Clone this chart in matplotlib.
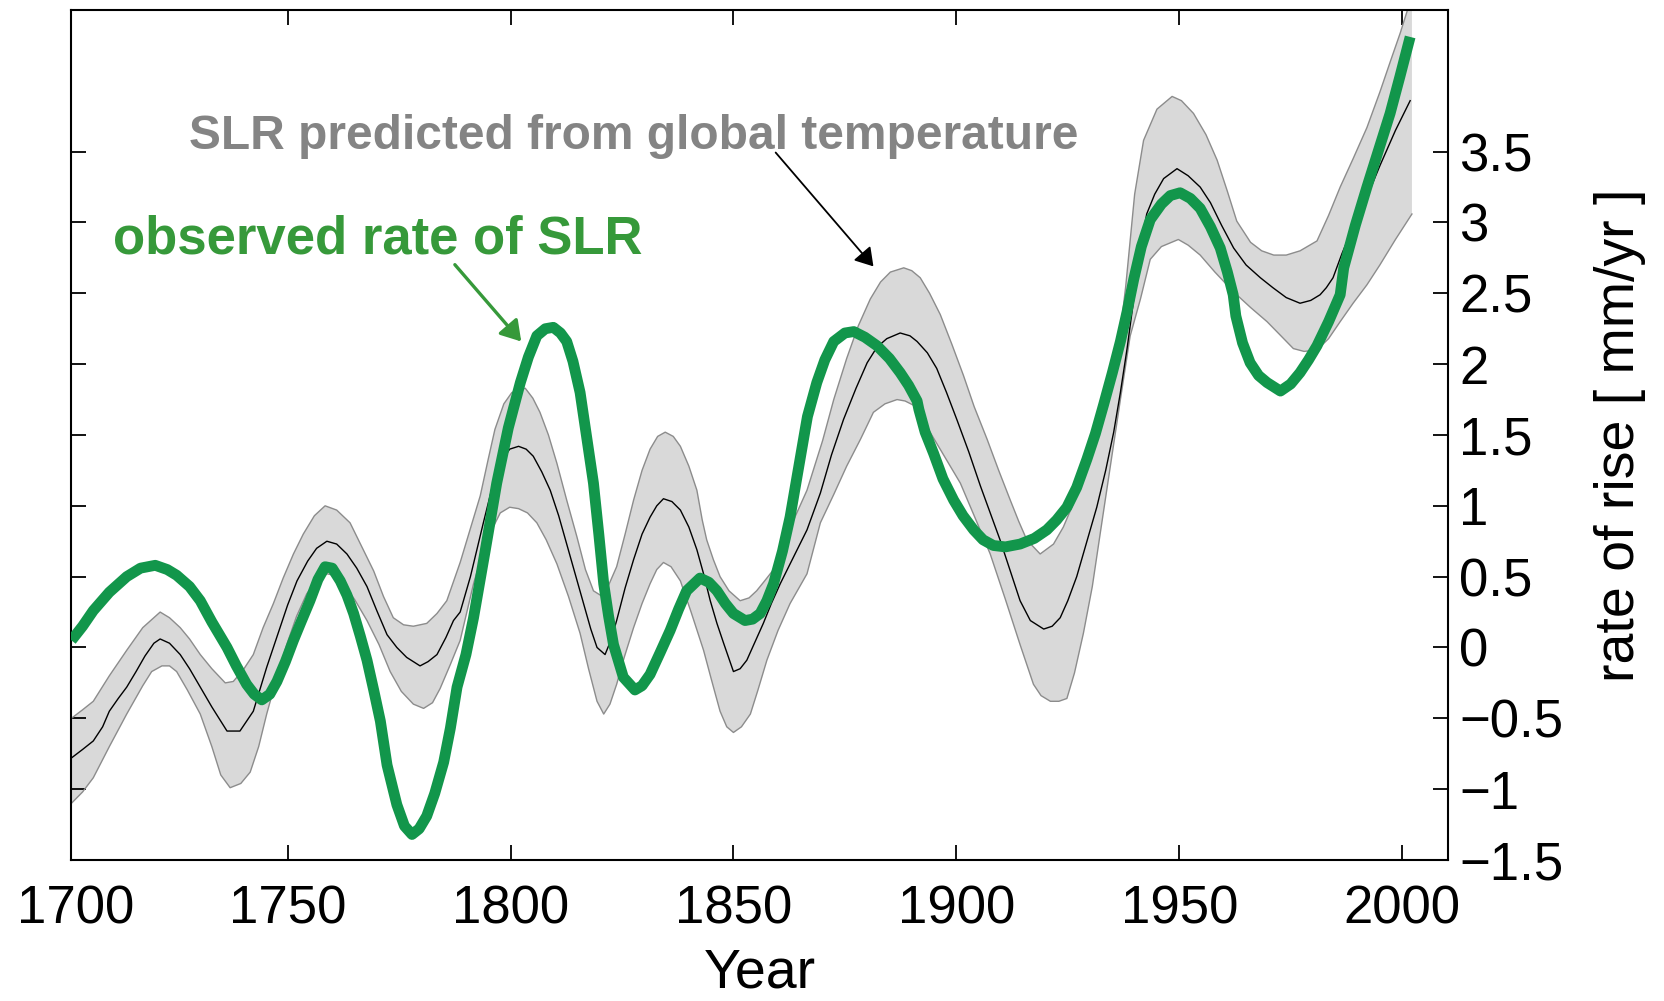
import matplotlib
matplotlib.use("Agg")
import matplotlib.pyplot as plt
import numpy as np

plt.rcParams["font.family"] = ["Liberation Sans", "DejaVu Sans"]

# observed rate of sea-level rise (mm/yr)
obs_year = [
    1701.5, 1704, 1706.4, 1710, 1713.9, 1717, 1720.3, 1723, 1725.1, 1728,
    1730.4, 1733, 1736.4, 1738.5, 1740.8, 1742.5, 1744.2, 1746, 1747.6, 1749.5,
    1751.3, 1753, 1755.0, 1756.8, 1758.4, 1760, 1761.8, 1763.3, 1764.8, 1766.3,
    1767.8, 1769.3, 1770.8, 1772.3, 1774.5, 1776.2, 1777.9, 1779.5, 1781.2, 1783,
    1785.0, 1786.5, 1788.0, 1790, 1791.7, 1794.3, 1796.9, 1799.5, 1802.2, 1804,
    1805.9, 1807.8, 1809.6, 1811.2, 1812.6, 1814, 1815.6, 1817, 1818.6, 1819.8,
    1820.9, 1822, 1823.1, 1825.3, 1827.9, 1829.5, 1831.3, 1833.5, 1835.8, 1837.7,
    1839.5, 1842.5, 1844.5, 1846.3, 1848.2, 1850, 1852.6, 1854.3, 1856, 1857.5,
    1859, 1861, 1862.7, 1864.5, 1866.1, 1866.6, 1868.7, 1870.5, 1872.5, 1875,
    1877, 1879.5, 1882.2, 1885, 1887.4, 1889.3, 1891.2, 1891.6, 1893, 1894.9,
    1897, 1899.4, 1901.5, 1903.9, 1906, 1908.3, 1911, 1914.3, 1917.5, 1920.3,
    1922.5, 1924.8, 1927, 1929.3, 1931.2, 1933.0, 1935, 1936.8, 1938.3, 1939.8,
    1941.5, 1943.5, 1946, 1948, 1950.2, 1952.5, 1954.7, 1957, 1959.2, 1960.8,
    1962.1, 1962.7, 1964.2, 1965.9, 1967.8, 1969.7, 1972.7, 1975, 1977.1, 1979,
    1980.9, 1983.5, 1986.1, 1986.9, 1989.5, 1992.1, 1994.7, 1997.3, 1999.5, 2001.8,
]
obs_rate = [
    0.05, 0.15, 0.26, 0.39, 0.50, 0.56, 0.58, 0.55, 0.51, 0.43,
    0.33, 0.18, 0.0, -0.13, -0.26, -0.33, -0.37, -0.33, -0.24, -0.10,
    0.05, 0.18, 0.33, 0.48, 0.57, 0.56, 0.47, 0.37, 0.24, 0.08,
    -0.09, -0.30, -0.52, -0.83, -1.11, -1.26, -1.32, -1.28, -1.19, -1.03,
    -0.81, -0.57, -0.28, -0.05, 0.21, 0.68, 1.16, 1.55, 1.87, 2.05,
    2.20, 2.25, 2.26, 2.22, 2.16, 2.02, 1.80, 1.50, 1.16, 0.80,
    0.45, 0.22, 0.02, -0.21, -0.30, -0.27, -0.19, -0.04, 0.12, 0.27,
    0.40, 0.49, 0.46, 0.40, 0.31, 0.24, 0.19, 0.20, 0.24, 0.33,
    0.45, 0.68, 0.92, 1.25, 1.54, 1.63, 1.87, 2.03, 2.16, 2.22,
    2.23, 2.19, 2.13, 2.04, 1.94, 1.85, 1.74, 1.68, 1.52, 1.37,
    1.19, 1.04, 0.93, 0.83, 0.76, 0.72, 0.71, 0.73, 0.77, 0.83,
    0.90, 0.99, 1.13, 1.33, 1.51, 1.71, 1.94, 2.16, 2.37, 2.60,
    2.83, 3.02, 3.13, 3.19, 3.21, 3.17, 3.10, 2.97, 2.82, 2.65,
    2.49, 2.34, 2.15, 2.01, 1.92, 1.87, 1.81, 1.86, 1.94, 2.03,
    2.13, 2.30, 2.49, 2.68, 2.98, 3.25, 3.51, 3.77, 4.03, 4.31,
]

# rate predicted from global temperature (central estimate)
pred_year = [
    1701.5, 1704, 1706.4, 1708.5, 1710, 1712, 1713.9, 1716, 1718, 1720,
    1721.4, 1723.5, 1725.9, 1728, 1730.4, 1733, 1736.4, 1739.3, 1742.3, 1745.3,
    1748.3, 1750, 1752.1, 1754.5, 1756.5, 1758.8, 1761, 1763.3, 1765.5, 1767.8,
    1770, 1772.3, 1774.5, 1776.7, 1779.7, 1781.5, 1783.5, 1785.5, 1787.2, 1788.7,
    1791, 1793.9, 1795.8, 1797.7, 1799.8, 1801.8, 1803.5, 1805.1, 1807, 1808.9,
    1810.8, 1812.6, 1814.5, 1816.4, 1818, 1819.4, 1821.2, 1822.5, 1823.8, 1825.7,
    1827.6, 1829.5, 1831.3, 1832.8, 1834.3, 1836.2, 1838.1, 1840, 1841.8, 1843.3,
    1844.8, 1846.3, 1847.8, 1850, 1851.5, 1853, 1855, 1856.7, 1858.5, 1860.5,
    1863.5, 1866.5, 1869.5, 1872, 1874.7, 1877.5, 1880, 1882.2, 1884.4, 1887.4,
    1889.6, 1891.2, 1893.5, 1895.6, 1897.8, 1900.1, 1902.8, 1905.4, 1907.6, 1909.8,
    1912, 1914.3, 1916.6, 1919.6, 1921.5, 1923.3, 1925, 1927.0, 1929.3, 1931.5,
    1933.5, 1935.3, 1936.8, 1938.3, 1939.8, 1941.2, 1942.7, 1944.5, 1946.5, 1949.5,
    1952, 1954.7, 1957, 1959.5, 1962.2, 1965, 1968.2, 1971, 1974, 1977.1,
    1979.5, 1981.6, 1983, 1984.5, 1986.5, 1989, 1992.1, 1995, 1998.5, 2001.8,
]
pred_rate = [
    -0.78, -0.72, -0.66, -0.56, -0.45, -0.36, -0.28, -0.17, -0.06, 0.03,
    0.06, 0.03, -0.05, -0.15, -0.28, -0.42, -0.59, -0.59, -0.45, -0.14,
    0.14, 0.30, 0.47, 0.61, 0.70, 0.75, 0.73, 0.66, 0.56, 0.43,
    0.26, 0.09, 0.0, -0.07, -0.13, -0.10, -0.05, 0.07, 0.19, 0.25,
    0.50, 0.88, 1.12, 1.30, 1.40, 1.42, 1.40, 1.35, 1.24, 1.11,
    0.93, 0.73, 0.52, 0.31, 0.13, 0.0, -0.05, 0.05, 0.19, 0.42,
    0.62, 0.80, 0.92, 1.0, 1.05, 1.03, 0.97, 0.85, 0.69, 0.52,
    0.33, 0.17, 0.03, -0.17, -0.15, -0.09, 0.05, 0.17, 0.31, 0.45,
    0.64, 0.83, 1.09, 1.36, 1.61, 1.83, 2.01, 2.12, 2.18, 2.22,
    2.20, 2.16, 2.08, 1.97, 1.80, 1.61, 1.38, 1.14, 0.95, 0.76,
    0.55, 0.33, 0.19, 0.13, 0.15, 0.21, 0.33, 0.50, 0.75, 0.99,
    1.25, 1.52, 1.80, 2.11, 2.46, 2.80, 3.06, 3.20, 3.31, 3.38,
    3.33, 3.25, 3.14, 2.98, 2.82, 2.70, 2.61, 2.54, 2.47, 2.43,
    2.45, 2.49, 2.54, 2.61, 2.78, 2.97, 3.18, 3.40, 3.65, 3.86,
]

# upper edge of the uncertainty band
upper_year = [
    1701.5, 1704, 1706.4, 1710, 1713.9, 1717.5, 1721.4, 1723.5, 1725.9, 1728,
    1730.4, 1733, 1736, 1737.8, 1740, 1742.3, 1744.5, 1746.8, 1749, 1751.3,
    1753.5, 1756, 1758.4, 1761, 1764, 1766.5, 1769.3, 1771.5, 1773.7, 1776,
    1778.2, 1781.2, 1783.5, 1785.7, 1788.7, 1791, 1793.2, 1795, 1796.5, 1798.5,
    1800.3, 1803.3, 1805, 1806.6, 1808.5, 1810.4, 1812.6, 1814.9, 1816.8, 1818.6,
    1820.1, 1822, 1823.8, 1825.7, 1827.6, 1829.5, 1831.3, 1833, 1834.7, 1836.5,
    1838.1, 1840, 1841.8, 1843, 1844, 1845.5, 1847, 1849, 1851.5, 1853.5,
    1855.2, 1857, 1859, 1862.5, 1866.5, 1870, 1872.5, 1875.4, 1878, 1880.7,
    1883, 1885.2, 1888.2, 1890, 1891.9, 1894, 1896.4, 1899, 1901.6, 1904,
    1906.9, 1909.5, 1912.1, 1914, 1915.8, 1918.8, 1921.8, 1924, 1926.3, 1929,
    1931.5, 1934, 1936.8, 1938, 1940, 1942, 1945, 1948.4, 1950.5, 1953.2,
    1956, 1958.5, 1960.8, 1962.9, 1966, 1968.5, 1971.2, 1974, 1977.1, 1980.9,
    1983.5, 1986.1, 1989, 1992.1, 1995, 1997.5, 1999.6, 2002.2,
]
upper_rate = [
    -0.50, -0.44, -0.38, -0.20, -0.02, 0.14, 0.25, 0.21, 0.14, 0.06,
    -0.05, -0.15, -0.25, -0.24, -0.16, -0.05, 0.14, 0.31, 0.49, 0.66,
    0.80, 0.93, 1.0, 0.97, 0.88, 0.72, 0.54, 0.36, 0.21, 0.16,
    0.15, 0.17, 0.24, 0.33, 0.60, 0.84, 1.07, 1.33, 1.54, 1.72,
    1.80, 1.83, 1.76, 1.66, 1.50, 1.30, 1.04, 0.78, 0.55, 0.40,
    0.37, 0.44, 0.57, 0.80, 1.04, 1.25, 1.40, 1.49, 1.52, 1.49,
    1.42, 1.28, 1.11, 0.90, 0.76, 0.62, 0.50, 0.40, 0.33, 0.35,
    0.40, 0.47, 0.55, 0.83, 1.11, 1.46, 1.75, 2.04, 2.27, 2.46,
    2.58, 2.65, 2.68, 2.66, 2.61, 2.50, 2.35, 2.14, 1.92, 1.70,
    1.47, 1.25, 1.04, 0.89, 0.76, 0.66, 0.73, 0.85, 1.02, 1.28,
    1.56, 1.88, 2.23, 2.55, 3.20, 3.58, 3.80, 3.89, 3.86, 3.77,
    3.62, 3.44, 3.22, 3.01, 2.86, 2.80, 2.77, 2.77, 2.80, 2.87,
    3.05, 3.25, 3.45, 3.67, 3.92, 4.15, 4.34, 4.60,
]

# lower edge of the uncertainty band
lower_year = [
    1701.5, 1704, 1706.4, 1710, 1713.9, 1717.5, 1719.5, 1721.8, 1723.5, 1725.1,
    1727.5, 1730.4, 1733, 1735, 1737.1, 1739.5, 1741.6, 1743.5, 1745.3, 1747.5,
    1749.8, 1752, 1754.3, 1756.5, 1758.8, 1760.5, 1762.5, 1765, 1767.8, 1770.5,
    1773, 1775.5, 1778.2, 1780.5, 1782.5, 1784.2, 1786.5, 1788.7, 1791.7, 1794.5,
    1797.7, 1799.8, 1801.8, 1803.8, 1805.9, 1808, 1810.4, 1813, 1815.6, 1817.5,
    1819.4, 1820.9, 1822.3, 1823.8, 1825.5, 1827.6, 1829.5, 1831.3, 1832.8, 1834.3,
    1836, 1838.1, 1840.5, 1843.3, 1845, 1847, 1848.5, 1850, 1851.8, 1853.8,
    1855.5, 1857.5, 1860, 1862.7, 1866.5, 1869.5, 1872.5, 1875.4, 1878.5, 1881.4,
    1884, 1886.7, 1888.5, 1890.4, 1892.5, 1894.1, 1897.5, 1900.9, 1904, 1907.6,
    1911, 1914.3, 1917.3, 1919, 1921.1, 1923, 1924.8, 1926.5, 1928.5, 1930.5,
    1932.3, 1934.5, 1936.8, 1939, 1941.3, 1943.5, 1946, 1949.8, 1952, 1954.7,
    1958, 1962.2, 1966, 1969.7, 1972.5, 1975.6, 1978, 1980.9, 1983.5, 1986.1,
    1989, 1992.1, 1995, 1998.5, 2002.2,
]
lower_rate = [
    -1.10, -1.02, -0.92, -0.70, -0.47, -0.27, -0.17, -0.13, -0.13, -0.17,
    -0.30, -0.47, -0.70, -0.90, -0.99, -0.96, -0.88, -0.70, -0.47, -0.22,
    0.02, 0.22, 0.38, 0.47, 0.52, 0.51, 0.45, 0.34, 0.19, 0.02,
    -0.17, -0.31, -0.40, -0.43, -0.39, -0.29, -0.12, 0.05, 0.45, 0.75,
    0.95, 0.99, 0.98, 0.95, 0.88, 0.76, 0.59, 0.36, 0.10, -0.15,
    -0.38, -0.47, -0.40, -0.26, -0.07, 0.14, 0.31, 0.45, 0.55, 0.60,
    0.57, 0.47, 0.25, -0.02, -0.22, -0.45, -0.56, -0.60, -0.56, -0.47,
    -0.30, -0.09, 0.12, 0.31, 0.52, 0.88, 1.08, 1.28, 1.47, 1.66,
    1.72, 1.75, 1.74, 1.71, 1.62, 1.52, 1.34, 1.16, 0.93, 0.66,
    0.34, 0.02, -0.26, -0.34, -0.38, -0.38, -0.36, -0.18, 0.10, 0.43,
    0.81, 1.27, 1.75, 2.20, 2.46, 2.74, 2.83, 2.88, 2.84, 2.77,
    2.65, 2.51, 2.40, 2.30, 2.21, 2.11, 2.09, 2.10, 2.18, 2.30,
    2.43, 2.56, 2.70, 2.88, 3.06,
]

x_ticks = [1750, 1800, 1850, 1900, 1950, 2000]
y_ticks = [-1.5, -1, -0.5, 0, 0.5, 1, 1.5, 2, 2.5, 3, 3.5]
y_tick_labels = ["\u22121.5", "\u22121", "\u22120.5", "0", "0.5", "1",
                 "1.5", "2", "2.5", "3", "3.5"]

GREEN_LINE = "#12964b"
GREEN_TEXT = "#36993a"
GREY_TEXT = "#848484"
TICK_FONT = 38
X_PAD = 18

fig = plt.figure(figsize=(16.65, 10.01), dpi=100)
ax = fig.add_axes([0.0429, 0.1409, 0.8268, 0.8491])

# uncertainty band of the temperature-based prediction
band_x = np.concatenate([upper_year, lower_year[::-1]])
band_y = np.concatenate([upper_rate, lower_rate[::-1]])
ax.fill(band_x, band_y, color="#d9d9d9", lw=0, zorder=1)
ax.plot(upper_year, upper_rate, color="#8c8c8c", lw=1.0, zorder=2)
ax.plot(lower_year, lower_rate, color="#8c8c8c", lw=1.0, zorder=2)
ax.plot(pred_year, pred_rate, color="black", lw=1.0, zorder=3)

ax.plot(obs_year, obs_rate, color=GREEN_LINE, lw=7.8,
        solid_capstyle="butt", solid_joinstyle="round", zorder=4)

ax.set_xlim(1701.5, 2010.3)
ax.set_ylim(-1.5, 4.5)
ax.set_xticks(x_ticks)
ax.set_yticks(y_ticks)
ax.set_yticklabels(y_tick_labels)

ax.tick_params(axis="both", direction="in", length=11, width=1.3,
               labelsize=TICK_FONT, top=True, right=True,
               labelleft=False, labelright=True)
ax.tick_params(axis="x", pad=X_PAD)
ax.tick_params(axis="y", pad=8)
for spine in ax.spines.values():
    spine.set_linewidth(1.5)

# 1700 sits just left of the plotted range, so it is placed by hand
ax.annotate("1700", xy=(0, 0), xycoords="axes fraction",
            xytext=(3, -X_PAD), textcoords="offset points",
            ha="center", va="top", fontsize=TICK_FONT)

ax.set_xlabel("Year", fontsize=40, labelpad=9)
ax.yaxis.set_label_position("right")
ax.set_ylabel("rate of rise [ mm/yr ]", fontsize=40, rotation=90, labelpad=22)

ax.annotate("SLR predicted from global temperature",
            xy=(1881.4, 2.69), xytext=(1727.8, 3.52),
            fontsize=34.5, fontweight="bold", color=GREY_TEXT,
            ha="left", va="baseline",
            arrowprops=dict(arrowstyle="-|>,head_length=0.4,head_width=0.25",
                            color="black", lw=1.3, mutation_scale=27,
                            shrinkA=0, shrinkB=0,
                            patchA=None, relpos=(0.66, 0.14)))
ax.annotate("observed rate of SLR",
            xy=(1802.4, 2.16), xytext=(1710.9, 2.78),
            fontsize=38, fontweight="bold", color=GREEN_TEXT,
            ha="left", va="baseline",
            arrowprops=dict(arrowstyle="-|>,head_length=0.4,head_width=0.25",
                            color=GREEN_TEXT, lw=2.4, mutation_scale=30,
                            shrinkA=0, shrinkB=0,
                            patchA=None, relpos=(0.645, 0.0)))

fig.savefig("out.png", dpi=100)
